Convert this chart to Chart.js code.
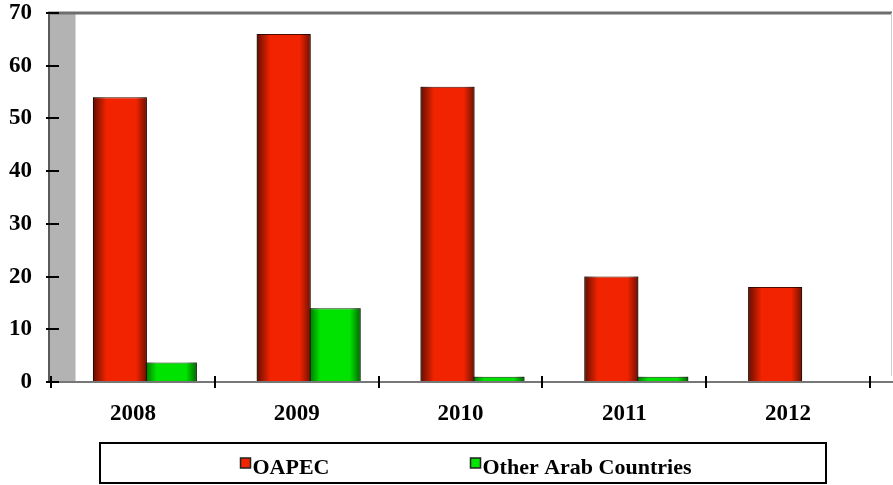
<!DOCTYPE html>
<html>
<head>
<meta charset="utf-8">
<script src="https://cdn.jsdelivr.net/npm/chart.js@4.4.1/dist/chart.umd.min.js"></script>
<style>
    html, body { margin: 0; padding: 0; background: #fff; }
    #wrap { position: relative; width: 893px; height: 485px; }
</style>
</head>
<body>
<div id="wrap"><canvas id="arabChart"></canvas></div>
<script>
// بيانات الرسم
const years = ['2008', '2009', '2010', '2011', '2012'];
const oapecValues = [54, 66, 56, 20, 18];
const otherArabValues = [3.7, 14, 1, 1, 0];
const yTicks = [0, 10, 20, 30, 40, 50, 60, 70];
const seriesNames = ['OAPEC', 'Other Arab Countries'];
const seriesColors = ['#f22300', '#00e200'];
const seriesBorders = ['#4a0e00', '#0a3a00'];

const serif = '"Liberation Serif", "Times New Roman", serif';
const depthShift = 12;

// الجدار الرمادي والإطار وتظليل الأعمدة
const frame3d = {
    id: 'frame3d',
    beforeDatasetsDraw(chart) {
        const { ctx, chartArea: { left, top, bottom }, width } = chart;
        ctx.save();
        ctx.fillStyle = '#b3b3b3';
        ctx.fillRect(left - 3, top, 27, bottom - top);
        ctx.strokeStyle = '#d8d8d8';
        ctx.lineWidth = 1;
        ctx.beginPath();
        ctx.moveTo(left + 24.5, top);
        ctx.lineTo(left + 24.5, bottom);
        ctx.stroke();
        ctx.strokeStyle = '#5a5a5a';
        ctx.lineWidth = 2;
        ctx.beginPath();
        ctx.moveTo(left - 2, top);
        ctx.lineTo(left - 2, bottom);
        ctx.stroke();
        ctx.strokeStyle = '#6e6e6e';
        ctx.lineWidth = 3;
        ctx.beginPath();
        ctx.moveTo(left - 3, top);
        ctx.lineTo(width - 1, top);
        ctx.stroke();
        ctx.strokeStyle = '#cfcfcf';
        ctx.lineWidth = 1;
        ctx.beginPath();
        ctx.moveTo(width - 1.5, top);
        ctx.lineTo(width - 1.5, bottom - 6);
        ctx.stroke();
        ctx.restore();

        ctx.save();
        ctx.translate(depthShift, 0);
    },
    afterDatasetDraw(chart, args) {
        const ctx = chart.ctx;
        args.meta.data.forEach(el => {
            const p = el.getProps(['x', 'y', 'base', 'width'], true);
            if (p.base - p.y < 1) return;
            const x0 = p.x - p.width / 2;
            const g = ctx.createLinearGradient(x0, 0, x0 + p.width, 0);
            g.addColorStop(0, 'rgba(0,0,0,0.6)');
            g.addColorStop(0.25, 'rgba(0,0,0,0)');
            g.addColorStop(0.8, 'rgba(0,0,0,0)');
            g.addColorStop(1, 'rgba(0,0,0,0.55)');
            ctx.fillStyle = g;
            ctx.fillRect(x0, p.y, p.width, p.base - p.y);
        });
    },
    afterDatasetsDraw(chart) {
        const { ctx, chartArea: { left, bottom }, width, scales: { x, y } } = chart;
        ctx.restore();
        ctx.save();
        // خط المحور الأفقي
        ctx.strokeStyle = '#777';
        ctx.lineWidth = 2;
        ctx.beginPath();
        ctx.moveTo(left - 3, bottom);
        ctx.lineTo(width, bottom);
        ctx.stroke();
        // علامات المحاور
        ctx.strokeStyle = '#000';
        ctx.lineWidth = 2;
        yTicks.forEach(v => {
            const py = Math.round(y.getPixelForValue(v));
            ctx.beginPath();
            ctx.moveTo(left - 5, py);
            ctx.lineTo(left + 8, py);
            ctx.stroke();
        });
        for (let i = 0; i <= years.length; i++) {
            const px = Math.round(x.getPixelForValue(i - 0.5));
            ctx.beginPath();
            ctx.moveTo(px, bottom - 6);
            ctx.lineTo(px, bottom + 6);
            ctx.stroke();
        }
        ctx.restore();
    }
};

// مفتاح الرسم داخل إطار
const boxLegend = {
    id: 'boxLegend',
    afterDraw(chart) {
        const ctx = chart.ctx;
        const box = { x: 100, y: 443, w: 726, h: 40 };
        ctx.save();
        ctx.strokeStyle = '#000';
        ctx.lineWidth = 2;
        ctx.strokeRect(box.x, box.y, box.w, box.h);

        ctx.font = 'bold 22px ' + serif;
        ctx.textBaseline = 'alphabetic';
        ctx.textAlign = 'left';
        const gap = 141;
        const widths = seriesNames.map(n => ctx.measureText(n).width);
        const total = widths.reduce((a, w) => a + w + 12, 0) + gap * (seriesNames.length - 1);
        let cx = box.x + box.w / 2 - total / 2 + 3;
        seriesNames.forEach((name, i) => {
            ctx.fillStyle = seriesColors[i];
            ctx.fillRect(cx, 458, 10, 10);
            ctx.lineWidth = 1.5;
            ctx.strokeStyle = '#222';
            ctx.strokeRect(cx, 458, 10, 10);
            ctx.fillStyle = '#000';
            ctx.fillText(name, cx + 12, 474);
            cx += 12 + widths[i] + gap;
        });
        ctx.restore();
    }
};

document.addEventListener('DOMContentLoaded', function() {
    const ctx = document.getElementById('arabChart');
    new Chart(ctx, {
        type: 'bar',
        data: {
            labels: years,
            datasets: [{
                label: seriesNames[0],
                data: oapecValues,
                backgroundColor: seriesColors[0],
                borderColor: seriesBorders[0],
                borderWidth: 1,
                borderSkipped: 'bottom'
            }, {
                label: seriesNames[1],
                data: otherArabValues,
                backgroundColor: seriesColors[1],
                borderColor: seriesBorders[1],
                borderWidth: c => (c.raw > 0 ? 1 : 0),
                borderSkipped: 'bottom'
            }]
        },
        options: {
            responsive: true,
            maintainAspectRatio: false,
            animation: false,
            categoryPercentage: 0.61,
            barPercentage: 1.08,
            layout: { padding: { top: 13, right: 23, bottom: 0, left: 0 } },
            plugins: {
                legend: { display: false },
                tooltip: { enabled: false }
            },
            scales: {
                x: {
                    grid: { display: false },
                    border: { display: false },
                    ticks: {
                        color: '#000',
                        font: { family: serif, size: 23, weight: 'bold' },
                        padding: 10
                    },
                    afterFit(scale) {
                        scale.height = 103;
                        scale.paddingLeft = 0;
                        scale.paddingRight = 0;
                    }
                },
                y: {
                    min: 0,
                    max: 70,
                    grid: { display: false, drawTicks: false },
                    border: { display: false },
                    afterBuildTicks(scale) {
                        scale.ticks = yTicks.map(v => ({ value: v }));
                    },
                    ticks: {
                        color: '#000',
                        font: { family: serif, size: 23, weight: 'bold' },
                        padding: 19
                    },
                    afterFit(scale) {
                        scale.width = 51;
                        scale.paddingTop = 0;
                        scale.paddingBottom = 0;
                    }
                }
            }
        },
        plugins: [frame3d, boxLegend]
    });
});
</script>
</body>
</html>
